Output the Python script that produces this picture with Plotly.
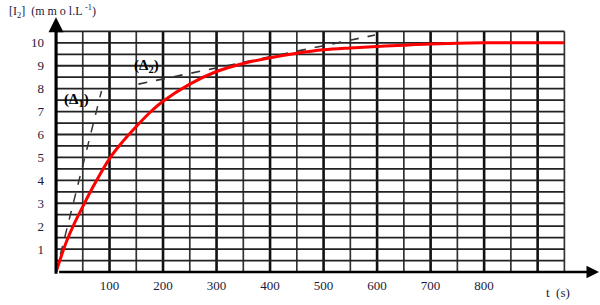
import plotly.graph_objects as go

# Data
t_curve = [0, 10, 20, 35, 50, 70, 100, 125, 150, 175, 200, 250, 300, 350, 400, 450, 500, 550, 600, 650, 700, 800, 950]
i2_curve = [0, 0.7, 1.35, 2.15, 2.85, 3.75, 4.95, 5.7, 6.35, 6.95, 7.45, 8.2, 8.75, 9.1, 9.35, 9.55, 9.7, 9.78, 9.84, 9.9, 9.95, 10.0, 10.0]
t_d1 = [0, 85]
i2_d1 = [0, 7.9]
t_d2 = [154, 596]
i2_d2 = [8.2, 10.34]
x_ticks = [100, 200, 300, 400, 500, 600, 700, 800]
y_ticks = [1, 2, 3, 4, 5, 6, 7, 8, 9, 10]
x_grid = [50 * k for k in range(0, 20)]          # 0..950
y_grid = [0.5 * k for k in range(1, 22)]         # 0.5..10.5

X_MAX, Y_MAX = 950, 10.5

fig = go.Figure()

shapes = []
for xv in x_grid:
    thick = (xv % 100 == 0)
    shapes.append(dict(type="line", xref="x", yref="y", x0=xv, x1=xv, y0=0, y1=Y_MAX,
                       line=dict(color="#111" if thick else "#333", width=2.6 if thick else 1.7),
                       layer="below"))
for yv in y_grid:
    shapes.append(dict(type="line", xref="x", yref="y", x0=0, x1=X_MAX, y0=yv, y1=yv,
                       line=dict(color="#222", width=1.8), layer="below"))

fig.add_trace(go.Scatter(x=t_d1, y=i2_d1, mode="lines",
                         line=dict(color="#333", width=1.5, dash="dash"), hoverinfo="skip"))
fig.add_trace(go.Scatter(x=t_d2, y=i2_d2, mode="lines",
                         line=dict(color="#333", width=1.7, dash="dash"), hoverinfo="skip"))
fig.add_trace(go.Scatter(x=t_curve, y=i2_curve, mode="lines", line_shape="spline",
                         line=dict(color="#ff0000", width=3), hoverinfo="skip"))

font_lbl = dict(family="Liberation Serif, Times New Roman, serif", size=13, color="#1a1a3a")

annotations = [
    # y axis arrow
    dict(x=0, y=1.053, xref="x", yref="paper", text="", showarrow=True,
         ax=0, ay=258, arrowhead=2, arrowsize=1, arrowwidth=3, arrowcolor="black"),
    # x axis arrow
    dict(x=1.066, y=0, xref="paper", yref="y", text="", showarrow=True,
         ax=-542, ay=0, arrowhead=2, arrowsize=1, arrowwidth=2.5, arrowcolor="black"),
    dict(x=0.985, y=-0.045, xref="paper", yref="paper", text="t  (s)", showarrow=False,
         xanchor="center", yanchor="top", font=font_lbl),
    dict(x=-0.097, y=1.077, xref="paper", yref="paper",
         text="[I<sub>2</sub>]  (m m o l.L <sup>-1</sup>)", showarrow=False,
         xanchor="left", yanchor="middle",
         font=dict(family="Liberation Serif, serif", size=12, color="#1a1a3a")),
    dict(x=38, y=7.5, xref="x", yref="y", text="<b>(Δ<sub>1</sub>)</b>", showarrow=False,
         font=dict(family="Liberation Serif, serif", size=15, color="black")),
    dict(x=170, y=9.0, xref="x", yref="y", text="<b>(Δ<sub>2</sub>)</b>", showarrow=False,
         font=dict(family="Liberation Serif, serif", size=15, color="black")),
]

fig.update_layout(
    width=600, height=305,
    margin=dict(l=56, r=34, t=30, b=27),
    paper_bgcolor="white", plot_bgcolor="white",
    showlegend=False,
    shapes=shapes,
    annotations=annotations,
    xaxis=dict(range=[0, 953], showgrid=False, zeroline=False, showline=False,
               tickmode="array", tickvals=x_ticks, ticktext=[str(v) for v in x_ticks],
               ticks="", tickfont=font_lbl, ticklabelstandoff=4, fixedrange=True),
    yaxis=dict(range=[0, 10.56], showgrid=False, zeroline=False, showline=False,
               tickmode="array", tickvals=y_ticks, ticktext=[str(v) for v in y_ticks],
               ticks="", tickfont=font_lbl, ticklabelstandoff=11, fixedrange=True),
)

fig.write_html("out.html")
